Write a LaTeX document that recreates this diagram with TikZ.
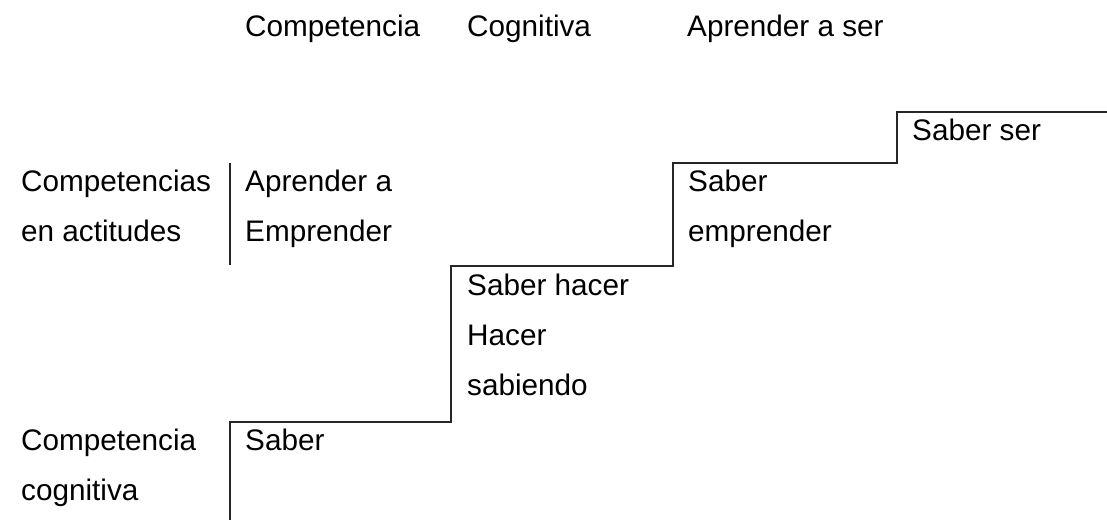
\documentclass[tikz,border=0pt]{standalone}
\usepackage{fontspec}
\setmainfont{Liberation Sans}
\usetikzlibrary{positioning}
% first line sets the baseline of a multi-line label
\newcommand{\lbltext}[1]{\begin{tabular}[t]{@{}l@{}}#1\end{tabular}}
\tikzset{
  lbl/.style={anchor=base west, inner sep=0pt,
              font=\fontsize{29.7}{50}\selectfont},
  stair/.style={line width=1.8pt, draw=black!85, line join=miter},
}

\begin{document}
\begin{tikzpicture}[x=1pt,y=-1pt]
  \useasboundingbox (0,0) rectangle (1107,520);

  % Header row
  \node[lbl] (hdcomp) at (245,36) {Competencia};
  \node[lbl] (hdcogn) at (467,36) {Cognitiva};
  \node[lbl] (hdser)  at (687,36) {Aprender a ser};

  % Left column
  \node[lbl] (actit) at (21,191) {\lbltext{Competencias\\en actitudes}};
  \node[lbl] (cogn)  at (21,450) {\lbltext{Competencia\\cognitiva}};
  \node[lbl] (empr)  at (245,191) {\lbltext{Aprender a\\Emprender}};

  % Step corners
  \coordinate (s0) at (230,520);
  \coordinate (s1) at (230,422);
  \coordinate (s2) at (451,422);
  \coordinate (s3) at (451,266);
  \coordinate (s4) at (673,266);
  \coordinate (s5) at (673,163);
  \coordinate (s6) at (897,163);
  \coordinate (s7) at (897,112);
  \coordinate (s8) at (1107,112);

  % Staircase
  \draw[stair] (s0) -- (s1) -- (s2) -- (s3) -- (s4) -- (s5) -- (s6) -- (s7) -- (s8);

  % Divider
  \coordinate (d0) at (230,163);
  \coordinate (d1) at (230,265);
  \draw[stair] (d0) -- (d1);

  % Step labels
  \node[lbl] (saber)  at (245,450) {Saber};
  \node[lbl] (hacer)  at (467,295) {\lbltext{Saber hacer\\Hacer\\sabiendo}};
  \node[lbl] (sempr)  at (688,191) {\lbltext{Saber\\emprender}};
  \node[lbl] (sser)   at (912,140) {Saber ser};
\end{tikzpicture}
\end{document}
